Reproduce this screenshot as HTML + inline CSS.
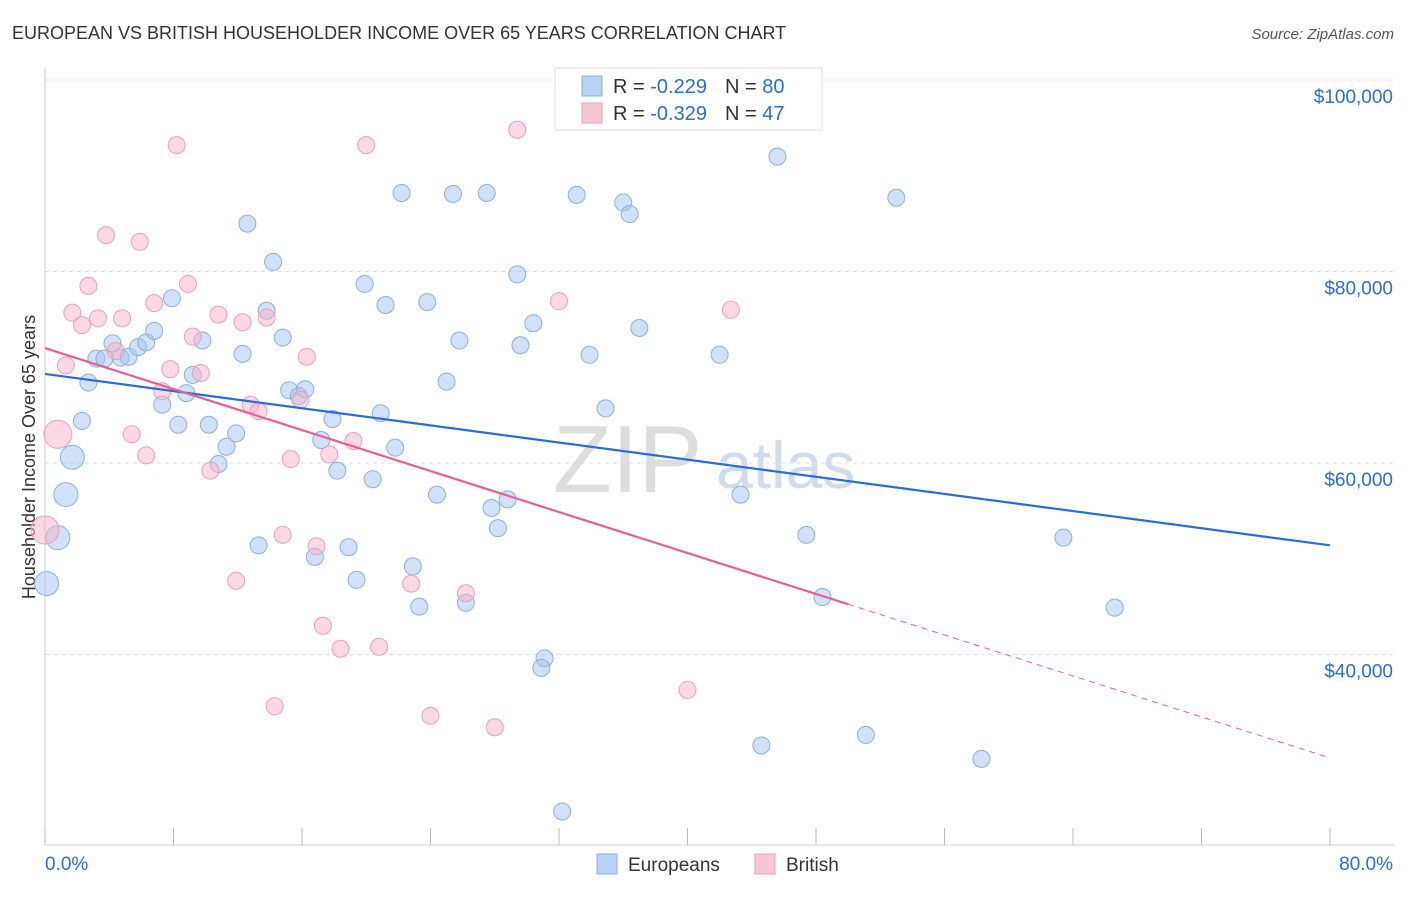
<!DOCTYPE html>
<html><head><meta charset="utf-8"><style>
body{margin:0;background:#fff;font-family:"Liberation Sans",sans-serif;}
svg text{font-family:"Liberation Sans",sans-serif;}
</style></head><body>
<svg id="c" width="1406" height="892">
<text x="12" y="39" font-size="18" fill="#333">EUROPEAN VS BRITISH HOUSEHOLDER INCOME OVER 65 YEARS CORRELATION CHART</text>
<text x="1394" y="39" font-size="15" fill="#555" font-style="italic" text-anchor="end">Source: ZipAtlas.com</text>
<text x="35" y="457" font-size="18" fill="#333" text-anchor="middle" transform="rotate(-90 35 457)">Householder Income Over 65 years</text>
<text x="553" y="492" font-size="96" fill="#ddd" font-family="Liberation Serif">ZIP</text>
<text x="716" y="488" font-size="66" fill="#cfdcf0">atlas</text>
<g id="grid"></g><g id="pts"></g><g id="lines"></g>
<g>
<rect x="555" y="68" width="267" height="62" fill="#fff" stroke="#ddd"/>
<rect x="582" y="76" width="20" height="20" fill="#b9d2f5" stroke="#8ab0e0"/>
<rect x="582" y="103" width="20" height="20" fill="#f9c6d5" stroke="#eaa0b8"/>
<text x="613" y="93" font-size="20" fill="#333">R = <tspan fill="#2a6dd9">-0.229</tspan><tspan dx="18">N = </tspan><tspan fill="#2a6dd9">80</tspan></text>
<text x="613" y="120" font-size="20" fill="#333">R = <tspan fill="#2a6dd9">-0.329</tspan><tspan dx="18">N = </tspan><tspan fill="#2a6dd9"> 47</tspan></text>
</g>
<g>
<rect x="597" y="854" width="20" height="20" fill="#b9d2f5" stroke="#8ab0e0"/>
<text x="628" y="871" font-size="19" fill="#333">Europeans</text>
<rect x="755" y="854" width="20" height="20" fill="#f9c6d5" stroke="#eaa0b8"/>
<text x="786" y="871" font-size="19" fill="#333">British</text>
</g>
</svg>
<script>
const yTicks=[40000,60000,80000,100000];
const yTickLabels=["$40,000","$60,000","$80,000","$100,000"];
const xEndLabels=["0.0%","80.0%"];
const euroX=[0.1,0.8,1.3,1.7,2.3,2.7,3.2,3.7,4.2,4.7,5.2,5.8,6.3,6.8,7.3,7.9,8.3,8.8,9.2,9.8,10.2,10.8,11.3,11.9,12.3,12.6,13.3,14.2,13.8,14.8,15.2,15.8,16.2,16.8,17.2,17.9,18.2,18.9,19.4,19.9,20.4,20.9,21.2,21.8,22.2,22.9,23.3,23.8,24.4,25.0,25.4,25.8,26.2,27.5,27.8,28.2,28.8,29.4,29.6,30.4,31.1,30.9,32.2,33.1,33.9,34.9,36.0,36.4,37.0,42.0,43.3,44.6,45.6,47.4,48.4,51.1,53.0,58.3,63.4,66.6];
const euroY=[47.4,52.2,56.7,60.6,64.4,68.4,70.9,70.9,72.5,71.0,71.1,72.1,72.6,73.8,66.1,77.2,64.0,67.3,69.2,72.8,64.0,59.9,61.7,63.1,71.4,85.0,51.4,81.0,75.9,73.1,67.6,67.0,67.7,50.2,62.4,64.6,59.2,51.2,47.8,78.7,58.3,65.2,76.5,61.6,88.2,49.2,45.0,76.8,56.7,68.5,88.1,72.8,45.4,88.2,55.3,53.2,56.2,79.7,72.3,74.6,39.6,38.6,23.6,88.0,71.3,65.7,87.2,86.0,74.1,71.3,56.7,30.5,92.0,52.5,46.0,31.6,87.7,29.1,52.2,44.9];
const britX=[0.0,0.8,1.3,1.7,2.3,2.7,3.3,3.8,4.4,4.8,5.4,5.9,6.3,6.8,7.3,7.8,8.2,8.9,9.2,9.7,10.3,10.8,11.9,12.3,12.8,13.3,13.8,14.3,14.8,15.3,15.9,16.3,16.9,17.3,17.7,18.4,19.2,20.0,20.8,22.8,24.0,26.2,28.0,29.4,32.0,40.0,42.7];
const britY=[53.0,63.0,70.2,75.7,74.4,78.5,75.1,83.8,71.7,75.1,63.0,83.1,60.8,76.7,67.5,69.8,93.2,78.7,73.2,69.4,59.2,75.5,47.7,74.7,66.1,65.4,75.2,34.6,52.5,60.4,66.6,71.1,51.3,43.0,60.9,40.6,62.3,93.2,40.8,47.4,33.6,46.4,32.4,94.8,76.9,36.3,76.0];
const euroTrend=[69.3,51.4];
const britTrend=[72.0,29.2];
const britSolidEnd=50.0;
const NS="http://www.w3.org/2000/svg";
const sx=v=>45+v*1285/80;
const sy=v=>80+(100-v)*191.5/20;
function mk(t,a,p){const e=document.createElementNS(NS,t);for(const k in a)e.setAttribute(k,a[k]);p.appendChild(e);return e;}
const grid=document.getElementById('grid');
yTicks.forEach((t,i)=>{
 const l=mk('line',{x1:45,x2:1394,y1:sy(t/1000),y2:sy(t/1000),stroke:'#ddd','stroke-dasharray':'4,4'},grid);
 
 
 const tx=mk('text',{x:1393,y:sy(t/1000)+23,'font-size':19,fill:'#2a6dd9','text-anchor':'end'},grid);
 tx.textContent=yTickLabels[i];
 
 
});
mk('line',{x1:45,x2:1394,y1:845,y2:845,stroke:'#ccc'},grid);
mk('line',{x1:45,x2:45,y1:68,y2:845,stroke:'#ccc'},grid);
for(let i=0;i<=10;i++){const t=mk('line',{x1:sx(i*8),x2:sx(i*8),y1:828,y2:845,stroke:'#bbb'},grid);
 
 }
[[0,'start',45],[80,'end',1393]].forEach((d,i)=>{const t=mk('text',{x:d[2],y:870,'font-size':19,fill:'#2a6dd9','text-anchor':d[1]},grid);t.textContent=xEndLabels[i];
 
 });
const pts=document.getElementById('pts');
euroX.forEach((x,i)=>{const c=mk('circle',{cx:sx(x),cy:sy(euroY[i]),r:i<4?12:8.5,fill:'rgba(164,196,240,0.5)',stroke:'#8ab0e0','stroke-width':1},pts);
 
 });
britX.forEach((x,i)=>{const c=mk('circle',{cx:sx(x),cy:sy(britY[i]),r:i<2?14:8.5,fill:'rgba(246,180,202,0.5)',stroke:'#eaa0b8','stroke-width':1},pts);
 
 });
const lines=document.getElementById('lines');
const bl=mk('line',{x1:sx(0),y1:sy(euroTrend[0]),x2:sx(80),y2:sy(euroTrend[1]),stroke:'#2a6dd9','stroke-width':2.2},lines);


const pe=britTrend[0]+(britTrend[1]-britTrend[0])*britSolidEnd/80;
const pl=mk('line',{x1:sx(0),y1:sy(britTrend[0]),x2:sx(britSolidEnd),y2:sy(pe),stroke:'#e8608f','stroke-width':2.2},lines);


const pd=mk('line',{x1:sx(britSolidEnd),y1:sy(pe),x2:sx(80),y2:sy(britTrend[1]),stroke:'#e8608f','stroke-width':1,'stroke-dasharray':'6,5'},lines);


</script>
</body></html>
